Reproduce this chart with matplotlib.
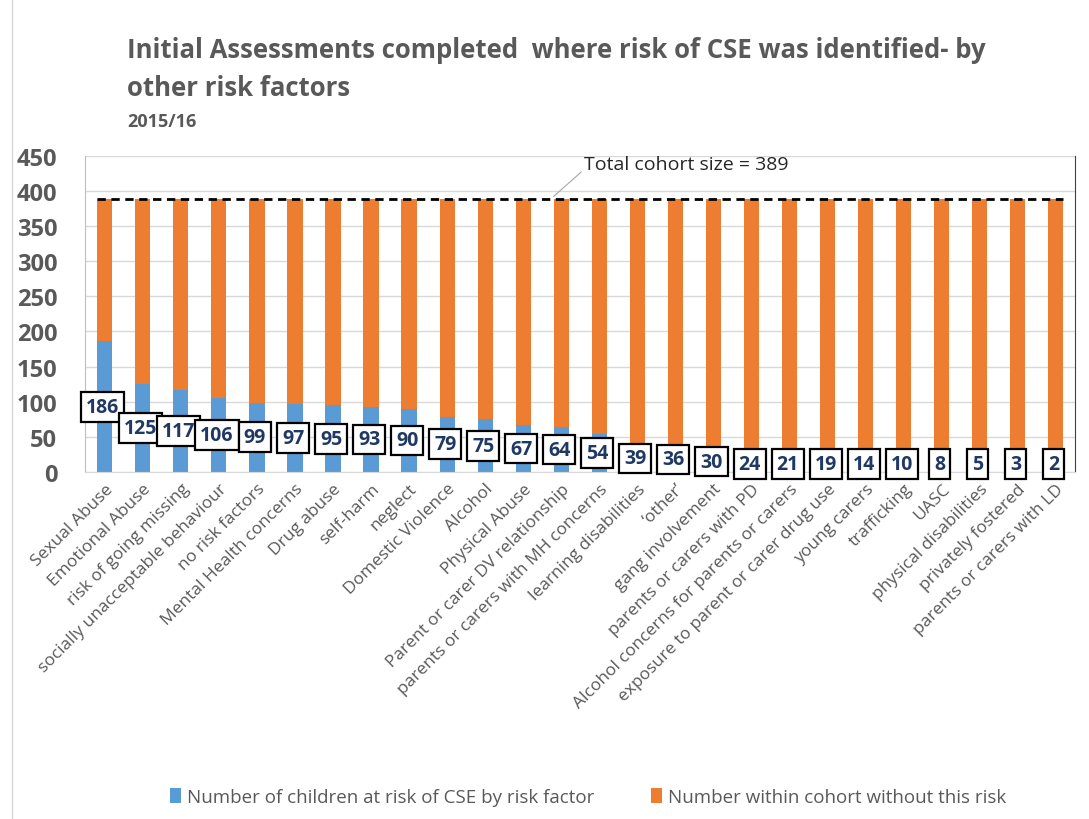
import numpy as np
import matplotlib.pyplot as plt
from matplotlib.patches import Rectangle

plt.rcParams['font.family'] = ['Open Sans', 'DejaVu Sans']

categories = ['Sexual Abuse', 'Emotional Abuse', 'risk of going missing',
              'socially unacceptable behaviour', 'no risk factors',
              'Mental Health concerns', 'Drug abuse', 'self-harm', 'neglect',
              'Domestic Violence', 'Alcohol', 'Physical Abuse',
              'Parent or carer DV relationship', 'parents or carers with MH concerns',
              'learning disabilities', '\u2018other\u2019', 'gang involvement',
              'parents or carers with PD', 'Alcohol concerns for parents or carers',
              'exposure to parent or carer drug use', 'young carers', 'trafficking',
              'UASC', 'physical disabilities', 'privately fostered',
              'parents or carers with LD']
at_risk = [186, 125, 117, 106, 99, 97, 95, 93, 90, 79, 75, 67, 64, 54,
           39, 36, 30, 24, 21, 19, 14, 10, 8, 5, 3, 2]
cohort_size = 389
without_risk = [cohort_size - v for v in at_risk]

blue = '#5B9BD5'
orange = '#ED7D31'
grey = '#595959'

fig = plt.figure(figsize=(10.89, 8.2), dpi=100)
ax = fig.add_axes([0.078, 0.423, 0.909, 0.386])

x = np.arange(len(categories))
ax.bar(x, at_risk, 0.4, color=blue, label='Number of children at risk of CSE by risk factor', zorder=2)
ax.bar(x, without_risk, 0.4, bottom=at_risk, color=orange,
       label='Number within cohort without this risk', zorder=2)

# total cohort line
ax.plot([x[0] - 0.2, x[-1] + 0.2], [cohort_size, cohort_size], color='black',
        linestyle=(0, (3, 2)), linewidth=2, zorder=3)
ax.annotate('Total cohort size = 389', xy=(11.8, cohort_size + 3), xytext=(12.6, 438),
            fontsize=14, color='#262626', va='center', ha='left',
            arrowprops=dict(arrowstyle='-', color='#A6A6A6', lw=0.8,
                            shrinkA=0, shrinkB=0, relpos=(0, 0.2)))

for i, v in enumerate(at_risk):
    ax.text(i - 0.05, max(v / 2, 12), str(v), ha='center', va='center', fontsize=14,
            fontweight='bold', color='#203864', zorder=4,
            bbox=dict(boxstyle='square,pad=0.25', facecolor='white', edgecolor='black', lw=1.6))

ax.set_xlim(-0.52, len(categories) - 0.5)
ax.set_ylim(0, 450)
ax.set_yticks(range(0, 451, 50))
ax.yaxis.grid(True, color='#D9D9D9', linewidth=1, zorder=0)
ax.tick_params(axis='y', length=0, labelsize=17, labelcolor=grey, pad=20)
for lbl in ax.get_yticklabels():
    lbl.set_fontweight('bold')
ax.set_xticks(x)
ax.set_xticklabels(categories, rotation=45, ha='right', rotation_mode='anchor',
                   fontsize=12.5, color=grey)
ax.tick_params(axis='x', length=0, pad=6)
ax.spines['top'].set_visible(False)
ax.spines['left'].set_color('#BFBFBF')
ax.spines['bottom'].set_color('#D9D9D9')
ax.spines['right'].set_color('#404040')

fig.text(0.117, 0.938, 'Initial Assessments completed  where risk of CSE was identified- by',
         fontsize=18.5, fontweight='bold', color=grey, va='center')
fig.text(0.117, 0.892, 'other risk factors', fontsize=18.5, fontweight='bold', color=grey, va='center')
fig.text(0.117, 0.851, '2015/16', fontsize=13, fontweight='bold', color=grey, va='center')

fig.legend(loc='center', bbox_to_anchor=(0.54, 0.027), ncol=2, frameon=False,
           labelcolor=grey, handlelength=0.6, handleheight=0.9,
           handletextpad=0.3, columnspacing=3, prop={'size': 13.5})

fig.patches.append(Rectangle((0.011, -0.01), 0.99, 1.02, transform=fig.transFigure,
                             fill=False, edgecolor='#D9D9D9', lw=1))

fig.savefig('out.png', dpi=100)
